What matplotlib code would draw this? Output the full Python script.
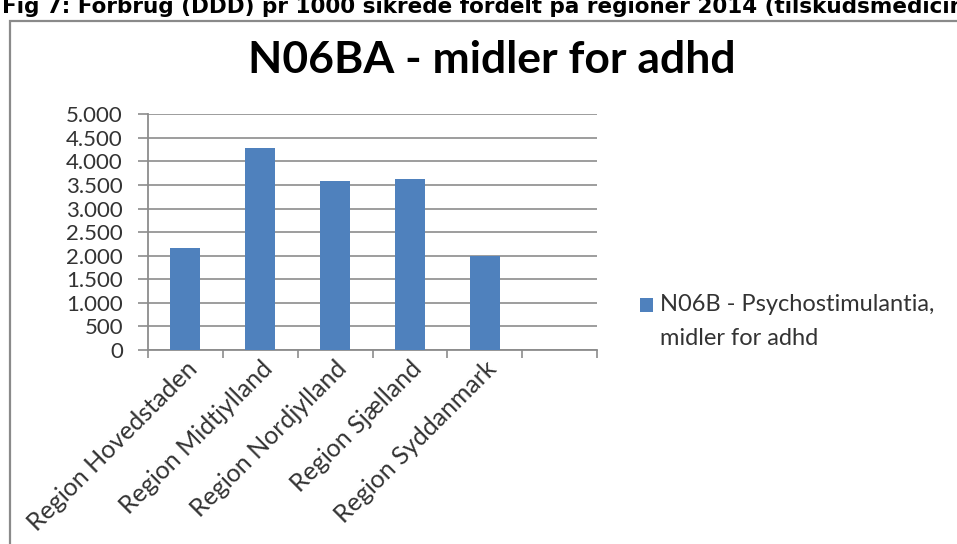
#%% imports

import matplotlib
matplotlib.use('Agg')
import matplotlib.pyplot as plt
from matplotlib.patches import Rectangle
from matplotlib.ticker import FuncFormatter, MultipleLocator
from matplotlib.transforms import ScaledTranslation

#%% data

regions = ['Region Hovedstaden', 'Region Midtjylland', 'Region Nordjylland',
           'Region Sjælland', 'Region Syddanmark']
ddd_per_1000 = [2170, 4280, 3580, 3630, 2000]
n_slots = 6  # the category axis has one empty slot at the end

caption = 'Fig 7: Forbrug (DDD) pr 1000 sikrede fordelt på regioner 2014 (tilskudsmedicin)'
chart_title = 'N06BA - midler for adhd'
series_name = 'N06B - Psychostimulantia,\nmidler for adhd'

#%% figure

W, H = 957, 544
fig = plt.figure(figsize=(W / 100, H / 100), dpi=100)
fig.patch.set_facecolor('white')

# caption above the chart box (runs off the page)
fig.text(2 / W, 1 - 13 / H, caption, family='DejaVu Sans', weight='bold',
         fontsize=15.5, color='black', va='baseline', ha='left')

# chart box frame
fig.patches.append(Rectangle((10 / W, -0.1), 1.2, 1.1 - 21 / H, transform=fig.transFigure,
                             facecolor='white', edgecolor='#8a8a8a', lw=1.6, zorder=-5))

ax = fig.add_axes([148 / W, 1 - 350 / H, (597 - 148) / W, (350 - 114.3) / H])
ax.set_facecolor('none')

ax.bar(range(len(regions)), ddd_per_1000, width=0.4, color='#4F81BD', zorder=3,
       label=series_name)

ax.set_xlim(-0.5, n_slots - 0.5)
ax.set_ylim(0, 5000)

ax.yaxis.set_major_locator(MultipleLocator(500))
ax.yaxis.set_major_formatter(FuncFormatter(lambda v, p: f'{int(v):,}'.replace(',', '.')))
ax.grid(axis='y', color='#8c8c8c', lw=1.2, zorder=0)

# tick marks on category boundaries, labels in the middle
ax.set_xticks([i - 0.5 for i in range(n_slots + 1)])
ax.set_xticklabels([])
ax.set_xticks(range(len(regions)), minor=True)
ax.set_xticklabels(regions, minor=True, rotation=45, ha='right', va='top',
                   rotation_mode='anchor', family='Lato', fontsize=18, color='#333333')
shift = ScaledTranslation(5 / 100, 0, fig.dpi_scale_trans)
for lbl in ax.get_xticklabels(minor=True):
    lbl.set_transform(lbl.get_transform() + shift)
ax.tick_params(axis='x', which='major', length=6, width=1.2, color='#8c8c8c')
ax.tick_params(axis='x', which='minor', length=0, pad=5)
ax.tick_params(axis='y', length=7, width=1.2, color='#8c8c8c', pad=11,
               labelsize=16, labelcolor='#333333')
for lbl in ax.get_yticklabels():
    lbl.set_family('Lato')

for s in ['top', 'right']:
    ax.spines[s].set_visible(False)
for s in ['left', 'bottom']:
    ax.spines[s].set_color('#8c8c8c')
    ax.spines[s].set_linewidth(1.3)

fig.text(491.5 / W, 1 - 73 / H, chart_title, family='Lato', weight='bold',
         fontsize=32, color='black', ha='center', va='baseline')

leg = fig.legend(loc='upper left', bbox_to_anchor=(640 / W, 1 - 294 / H),
                 frameon=False, prop={'family': 'Lato', 'size': 17},
                 handlelength=0.55, handleheight=0.55, handletextpad=0.3,
                 borderpad=0, borderaxespad=0)
for t in leg.get_texts():
    t.set_color('#333333')
    t.set_linespacing(1.75)
# line the swatch up with the first text line
swatch = leg.legend_handles[0]
swatch.set_y(swatch.get_y() + 12)

fig.savefig('out.png', dpi=100)
